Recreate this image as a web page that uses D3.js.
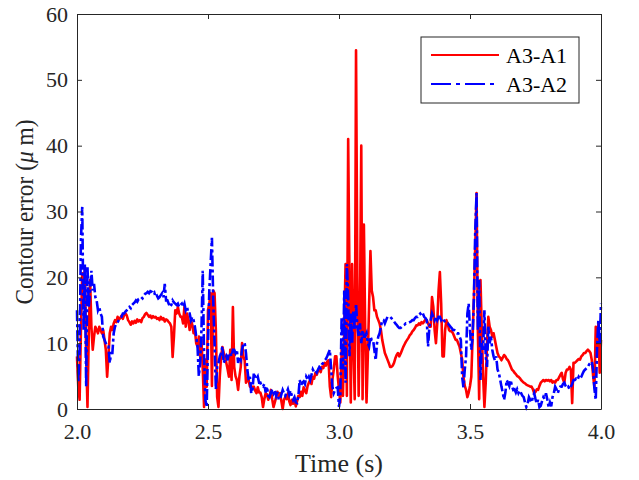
<!DOCTYPE html>
<html>
<head>
<meta charset="utf-8">
<script src="https://cdn.jsdelivr.net/npm/d3@7"></script>
<style>
  body { margin: 0; background: #fff; }
</style>
</head>
<body>
<div id="chart"></div>
<script>
// sampling grid of the recorded signals (s)
var tStart = 2.0;
var tStep = 0.005;

// contour error, A3-A1 (um), one row = 0.1 s
const errA1 = [
  8, 3.3, 1.4, 12, 20.6, 16.5, 21.6, 8, 0.3, 11.5, 19.6, 12.5, 9, 11, 12.5, 12, 11.5, 12.5, 12, 11.5,
  12, 10.5, 9, 4.9, 8, 11.5, 12.5, 12, 13, 13.5, 13.2, 14, 13.6, 13.8, 14.2, 13.7, 14.3, 14.5, 14.2, 13.5,
  13.2, 12.8, 13.3, 13.0, 13.4, 13.1, 13.6, 13.3, 13.5, 13.2, 13.8, 14.0, 14.4, 14.6, 14.3, 14.0, 14.2, 13.8, 14.1, 13.9,
  14.0, 13.7, 13.8, 13.5, 14.0, 13.6, 13.8, 13.3, 13.6, 13.5, 13.2, 13.0, 12.5, 7.9, 11, 15, 14.5, 15.5, 14.5, 14,
  14, 13, 15.5, 12.5, 14.5, 13.5, 12, 13.5, 12.8, 11.5, 12, 10, 9.5, 11, 8, 10.5, 6, 0.3, 7.5, 3.4,
  15, 16, 17.6, 3.5, 18, 17.6, 12, 1.8, 0.3, 5, 8, 9.4, 8.5, 8, 7, 6, 4.9, 9, 4.4, 15.5,
  6.4, 5, 4.4, 2.9, 5, 6.4, 10, 8, 7.4, 4, 4.5, 4.4, 3.4, 3.5, 3.2, 3.4, 2.8, 2.4, 3.3, 2.5,
  2.5, 1.8, 0.3, 1.5, 2.4, 2.2, 1.4, 2.0, 2.9, 1.5, 0.3, 1.0, 1.8, 2.6, 2.0, 2.4, 1.2, 0.0, 1.4, 1.8,
  1.5, 2.4, 1.2, 0.6, 1.4, 0.8, 1.5, 0.4, 1.2, 2.0, 1.8, 2.6, 2.0, 3.3, 2.8, 2.4, 3.5, 4.0, 4.4, 3.8,
  4.9, 4.6, 5.5, 5.2, 5.8, 6.0, 5.6, 6.4, 6.2, 7.0, 6.6, 7.2, 7.4, 3.4, 1.8, 4.5, 6, 8, 8, 5,
  3, 1, 9, 2, 12, 22, 2, 41, 20, 1, 22, 10, 1.5, 54.5, 20, 2, 15, 40, 1.5, 28,
  12, 1, 8, 16, 24, 18, 17, 15, 15, 14, 13.5, 13, 12, 10.5, 9.5, 8.5, 8, 7.5, 7, 6.4,
  6.4, 6.6, 7.0, 7.7, 8.2, 8.5, 8.0, 8.4, 8.9, 9.4, 9.8, 10.2, 10.5, 10.8, 11.2, 11.4, 11.8, 12.0, 12.3, 12.7,
  12.7, 13.0, 12.8, 13.2, 13.0, 13.3, 13.6, 13.5, 13.0, 12.5, 12.5, 17, 15.5, 12, 10, 13, 18, 20.8, 16, 8,
  8, 12, 13.5, 13, 12, 11.8, 11.8, 11.5, 11, 10.5, 10.5, 10, 9.5, 8.5, 7.5, 4.9, 3.5, 2.9, 1.8, 2.5,
  3.5, 4.9, 11, 17, 24.6, 32.8, 12, 1.5, 19.6, 12, 5, 0.3, 4, 10, 14, 12.5, 12, 11, 11.5, 10.5,
  9.5, 8.5, 8, 7.8, 7.4, 7.8, 8.2, 8.0, 7.6, 7.4, 7.0, 6.5, 6.0, 5.8, 5.5, 5.3, 5.0, 4.9, 4.7, 4.4,
  4.2, 4.0, 3.9, 3.7, 3.6, 3.5, 3.4, 3.4, 3.0, 2.4, 2.6, 3.0, 2.9, 3.5, 4.0, 4.2, 4.4, 4.2, 4.4, 4.3,
  4.4, 4.2, 4.4, 4.0, 4.2, 4.0, 4.4, 4.4, 4.8, 5.2, 5.5, 4.5, 4.0, 5.5, 6.0, 6.0, 6.4, 6.0, 0.9, 7.0,
  7.0, 7.2, 7.4, 7.6, 7.5, 8.0, 8.2, 8.5, 8.5, 8.8, 9.0, 8.8, 8.5, 7.4, 5, 3.3, 12.5, 8, 13, 5.5,
  10.5
];

// contour error, A3-A2 (um)
const errA2 = [
  15, 4, 9, 25.7, 30.7, 12, 22, 3.4, 21.6, 15.5, 18, 21, 18, 19, 17, 16.5, 15, 15.5, 14.5, 14,
  11, 10.5, 10, 9.5, 9.5, 7, 8.5, 8.5, 11.5, 12.5, 13, 13.2, 13.5, 13.8, 14, 14.5, 14.5, 14.8, 15, 15.2,
  15.5, 15.3, 15.8, 16.0, 16.2, 16.5, 16.3, 16.7, 16.8, 17.0, 16.8, 17.2, 17.5, 17.6, 17.8, 17.6, 17.9, 17.8, 17.5, 17.7,
  17.0, 17.2, 16.8, 17.0, 17.3, 17.6, 17.0, 19, 16.5, 16.5, 16.0, 15.5, 15.8, 16.5, 16.2, 16.0, 15.8, 16.0, 15.5, 15.8,
  16, 15.5, 16, 15, 15.5, 14.5, 14.5, 13.5, 14, 13.5, 12.5, 11, 9.5, 5, 7, 12, 21, 8, 1.4, 0.3,
  10, 18, 22, 26, 16.5, 10, 3, 6.4, 7, 8, 8.5, 9.5, 7, 7.5, 8, 7.4, 8.5, 8.5, 8, 9,
  9, 8.5, 9, 7, 8, 7.5, 9, 10, 10, 8.5, 6, 4.4, 4.9, 2.4, 3, 5.5, 4.9, 4.5, 4.9, 4,
  4, 3.5, 3.4, 3.8, 2.5, 3.4, 2.0, 1.8, 2.4, 3.0, 2.4, 2.9, 2.0, 2.6, 1.4, 1.5, 2.2, 2.9, 2.4, 2.0,
  2.5, 3, 2.2, 2.8, 2.0, 1.4, 1.8, 1.0, 0.9, 2.0, 4.4, 3.6, 4.0, 4.2, 3.8, 4.9, 4.5, 4.9, 4.4, 5.2,
  6, 5.6, 5.8, 5.5, 6.0, 6.4, 6.2, 6.8, 7.0, 7.4, 7.6, 8.0, 8.5, 9.0, 6, 3.3, 2.4, 2.9, 3.2, 3.3,
  0.3, 2, 14, 6, 18, 4, 22, 17, 8, 14.5, 10, 15, 12, 16, 12.5, 11, 13, 10, 12, 11,
  11, 11.5, 10, 9.5, 11, 10.5, 10.5, 9, 7.4, 10, 11, 11.5, 12.5, 13.5, 13.5, 13, 13.5, 14, 14, 14,
  13.8, 13.5, 13.3, 13.0, 12.8, 12.5, 12.3, 12.3, 12.5, 12.7, 12.8, 13.0, 13.0, 13.1, 13.2, 13.3, 13.5, 13.5, 13.8, 14.0,
  14.0, 14.3, 14.5, 14.2, 14.5, 14.0, 13.8, 13.5, 9.5, 12.5, 13.5, 14.5, 14.0, 13.5, 14.0, 13.5, 14.0, 14.0, 13.5, 13.8,
  13.5, 13.2, 13.0, 13.0, 12.8, 12.5, 12.3, 12.0, 12.0, 11.8, 11.5, 11.5, 11.0, 10.5, 4.9, 3.3, 6, 8, 14.5, 16,
  12, 9, 11, 17, 27, 32.8, 12, 19.6, 4.4, 10, 9, 15, 8, 6.4, 12.5, 10, 11, 9, 8, 7.4,
  8, 6, 5.5, 4.5, 3.4, 2.5, 1.4, 2.5, 4.4, 4.0, 3.5, 4.4, 3.5, 2.9, 3.0, 2.5, 3.0, 2.4, 2.8, 2.4,
  2.0, 1.8, 1.0, 0.3, 0.8, 1.8, 1.4, 1.0, 1.8, 2.4, 1.5, 0.8, 1.4, 0.3, 0.5, 1.2, 1.8, 1.5, 2.4, 1.5,
  0.3, 1.0, 0.4, 1.8, 2.4, 3.4, 3.0, 2.4, 3.0, 3.4, 3.4, 3.8, 4.0, 3.5, 3.2, 3.4, 3.0, 3.4, 3.8, 4.4,
  4.4, 4.6, 4.4, 4.9, 4.6, 4.9, 5.4, 5.8, 6.0, 6.2, 6.4, 6.8, 7.0, 7.2, 6.0, 3.0, 1.4, 9.5, 13.5, 10,
  16
];

const seriesNames = ["A3-A1", "A3-A2"];
const xTicks = [2.0, 2.5, 3.0, 3.5, 4.0];
const yTicks = [0, 10, 20, 30, 40, 50, 60];

var W = 639, H = 480;
var margin = {left: 77, right: 38, top: 14, bottom: 71};
var axisColor = "#262626";
var serif = "'Liberation Serif', 'Times New Roman', Times, serif";

var svg = d3.select("#chart").append("svg")
    .attr("width", W)
    .attr("height", H)
    .style("background", "#fff");

var x = d3.scaleLinear().domain([2, 4]).range([margin.left, W - margin.right]);
var y = d3.scaleLinear().domain([0, 60]).range([H - margin.bottom, margin.top]);

const toPoints = function(vals) {
    return vals.map((v, i) => ({t: tStart + i * tStep, v: v}));
};

var line = d3.line().x(d => x(d.t)).y(d => y(d.v));

// data lines, A3-A2 drawn last like the original
svg.append("path")
    .datum(toPoints(errA1))
    .attr("d", line)
    .attr("fill", "none")
    .attr("stroke", "#ff0000")
    .attr("stroke-width", 2.6)
    .attr("stroke-linejoin", "round");

svg.append("path")
    .datum(toPoints(errA2))
    .attr("d", line)
    .attr("fill", "none")
    .attr("stroke", "#0000ff")
    .attr("stroke-width", 2.6)
    .attr("stroke-dasharray", "11,3,3,3");

// axes, matlab style: ticks inside, box all round
const styleAxis = function(g, showText) {
    g.select(".domain").attr("stroke", axisColor).attr("stroke-width", 1);
    g.selectAll(".tick line").attr("stroke", axisColor);
    g.selectAll("text")
        .attr("fill", axisColor)
        .style("font-family", serif)
        .style("font-size", "22px");
    if (!showText) g.selectAll("text").remove();
};

svg.append("g")
    .attr("transform", "translate(0," + y(0) + ")")
    .call(d3.axisBottom(x).tickValues(xTicks).tickFormat(d3.format(".1f"))
        .tickSizeInner(-5).tickSizeOuter(0).tickPadding(14))
    .call(g => styleAxis(g, true));

svg.append("g")
    .attr("transform", "translate(0," + y(60) + ")")
    .call(d3.axisTop(x).tickValues(xTicks).tickSizeInner(-5).tickSizeOuter(0))
    .call(g => styleAxis(g, false));

svg.append("g")
    .attr("transform", "translate(" + x(2) + ",0)")
    .call(d3.axisLeft(y).tickValues(yTicks).tickFormat(d3.format("d"))
        .tickSizeInner(-5).tickSizeOuter(0).tickPadding(9))
    .call(g => styleAxis(g, true));

svg.append("g")
    .attr("transform", "translate(" + x(4) + ",0)")
    .call(d3.axisRight(y).tickValues(yTicks).tickSizeInner(-5).tickSizeOuter(0))
    .call(g => styleAxis(g, false));

// axis titles
svg.append("text")
    .attr("x", (x(2) + x(4)) / 2)
    .attr("y", 472)
    .attr("text-anchor", "middle")
    .attr("fill", axisColor)
    .style("font-family", serif)
    .style("font-size", "26px")
    .text("Time (s)");

var yl = svg.append("text")
    .attr("transform", "translate(33,212) rotate(-90)")
    .attr("text-anchor", "middle")
    .attr("fill", axisColor)
    .attr("textLength", 185)
    .attr("lengthAdjust", "spacingAndGlyphs")
    .style("font-family", serif)
    .style("font-size", "25px");
yl.append("tspan").text("Contour error (");
yl.append("tspan").style("font-style", "italic").text("\u03bc");
yl.append("tspan").text(" m)");

// legend
var legend = svg.append("g").attr("transform", "translate(421,37)");
legend.append("rect")
    .attr("width", 158).attr("height", 66)
    .attr("fill", "#fff")
    .attr("stroke", axisColor)
    .attr("stroke-width", 1);

var legendColors = ["#ff0000", "#0000ff"];
var legendDash = [null, "20,5,4,5"];
seriesNames.forEach((name, i) => {
    var yy = 18 + i * 29;
    legend.append("line")
        .attr("x1", 10).attr("x2", 78)
        .attr("y1", yy).attr("y2", yy)
        .attr("stroke", legendColors[i])
        .attr("stroke-width", 2)
        .attr("stroke-dasharray", legendDash[i]);
    legend.append("text")
        .attr("x", 85).attr("y", yy + 8)
        .attr("fill", "#000")
        .style("font-family", serif)
        .style("font-size", "22px")
        .text(name);
});
</script>
</body>
</html>
